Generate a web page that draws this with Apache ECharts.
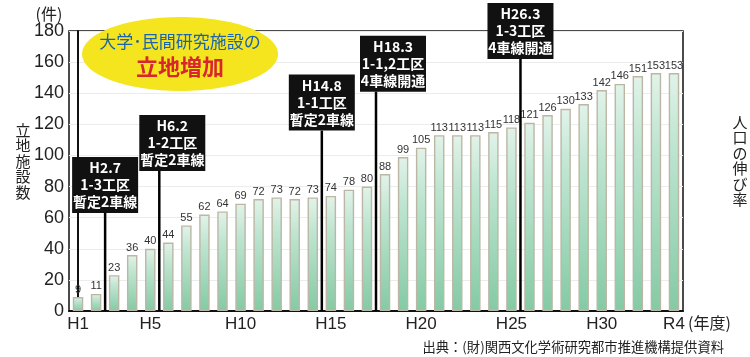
<!DOCTYPE html>
<html>
<head>
<meta charset="utf-8">
<script src="https://cdn.jsdelivr.net/npm/echarts@6/dist/echarts.min.js"></script>
<style>
html,body{margin:0;padding:0;background:#fff;}
#chart{width:750px;height:357px;}
</style>
</head>
<body>
<div id="chart"></div>
<script>
// ---- data ----
const categories = ['H1','H2','H3','H4','H5','H6','H7','H8','H9','H10',
  'H11','H12','H13','H14','H15','H16','H17','H18','H19','H20',
  'H21','H22','H23','H24','H25','H26','H27','H28','H29','H30',
  'R1','R2','R3','R4'];
const facilityCounts = [9,11,23,36,40,44,55,62,64,69,
  72,73,72,73,74,78,80,88,99,105,
  113,113,113,115,118,121,126,130,133,142,
  146,151,153,153];
const shownTickLabels = ['H1','H5','H10','H15','H20','H25','H30','R4'];
const yTicks = {min:0, max:180, interval:20};
// events: position on category scale (between two years), height of label box top (in 件 units)
const eventPositions = [1.5, 4.5, 13.5, 16.5, 24.5];
const eventBoxTops = [99, 126, 152, 177, 198];
const eventLabels = [
  ['H2.7','1-3工区','暫定2車線'],
  ['H6.2','1-2工区','暫定2車線'],
  ['H14.8','1-1工区','暫定2車線'],
  ['H18.3','1-1,2工区','4車線開通'],
  ['H26.3','1-3工区','4車線開通']
];

// ---- style / layout (not data) ----
const boxShift = [0, 13, 0, 17, 0];
const boxW = 66, boxH = 56;
const JP = '"Noto Sans CJK JP", "Noto Sans", sans-serif';
const NUM = '"Liberation Sans", "DejaVu Sans", sans-serif';

const chart = echarts.init(document.getElementById('chart'), null, {renderer:'canvas'});

const eventData = eventPositions.map((p, i) => [p, eventBoxTops[i], i]);

const option = {
  animation: false,
  backgroundColor: '#fff',
  grid: {left: 69, right: 67, top: 31, bottom: 46, show: true, borderColor: '#111', borderWidth: 1.5, containLabel: false},
  xAxis: [{
    type: 'category',
    data: categories,
    boundaryGap: true,
    axisLine: {show: true, lineStyle: {color: '#111', width: 2}},
    axisTick: {show: false},
    axisLabel: {
      interval: (idx, val) => shownTickLabels.includes(val),
      color: '#222', fontSize: 17, fontFamily: NUM, margin: 5
    },
    splitLine: {show: false}
  }, {
    type: 'value', min: -0.5, max: 33.5, show: false, gridIndex: 0
  }],
  yAxis: {
    type: 'value', min: yTicks.min, max: yTicks.max, interval: yTicks.interval,
    axisLine: {show: true, lineStyle: {color: '#111', width: 2}},
    axisTick: {show: false},
    axisLabel: {color: '#222', fontSize: 18, fontFamily: NUM, margin: 5},
    splitLine: {show: true, lineStyle: {color: '#ececec', width: 1}}
  },
  series: [{
    type: 'bar',
    data: facilityCounts,
    barWidth: '58%',
    z: 3,
    itemStyle: {
      color: new echarts.graphic.LinearGradient(0, 0, 0, 1, [
        {offset: 0, color: '#e2f3ea'},
        {offset: 0.3, color: '#bfe5d1'},
        {offset: 1, color: '#84caa5'}
      ]),
      borderColor: '#bcb7a5', borderWidth: 1.4
    },
    label: {
      show: true, position: 'top', distance: 2,
      color: '#333', fontSize: 11,
      fontFamily: '"Liberation Sans Narrow", "Liberation Sans", sans-serif'
    }
  }, {
    type: 'custom',
    xAxisIndex: 1,
    yAxisIndex: 0,
    clip: false,
    z: 10,
    data: eventData,
    renderItem: function (params, api) {
      const x = api.value(0), top = api.value(1), i = api.value(2);
      const base = api.coord([x, 0]);
      const tp = api.coord([x, top]);
      const lx = base[0];
      const bx = lx + boxShift[i] - boxW / 2;
      const by = tp[1];
      const lines = eventLabels[i];
      return {
        type: 'group',
        children: [{
          type: 'line',
          shape: {x1: lx, y1: by + boxH, x2: lx, y2: base[1]},
          style: {stroke: '#000', lineWidth: 2.5}
        }, {
          type: 'rect',
          shape: {x: bx, y: by, width: boxW, height: boxH},
          style: {fill: '#111'}
        }, {
          type: 'text',
          style: {
            x: bx + boxW / 2, y: by + boxH / 2,
            text: lines.join('\n'),
            fill: '#fff', font: 'bold 14px ' + JP,
            lineHeight: 17, align: 'center', verticalAlign: 'middle'
          }
        }]
      };
    }
  }],
  graphic: [
    {type: 'ellipse', shape: {cx: 180, cy: 54, rx: 98, ry: 37}, style: {fill: '#f4e51e'}, z: 20},
    {type: 'text', x: 180, y: 42, z: 21, style: {text: '大学･民間研究施設の', fill: '#1c63ad', font: '17px ' + JP, align: 'center', verticalAlign: 'middle'}},
    {type: 'text', x: 180, y: 67, z: 21, style: {text: '立地増加', fill: '#d8262e', font: 'bold 22px ' + JP, align: 'center', verticalAlign: 'middle'}},
    {type: 'text', x: 49, y: 14, style: {text: '(件)', fill: '#222', font: '16px ' + JP, align: 'center', verticalAlign: 'middle'}},
    {type: 'text', x: 23, y: 161, style: {text: '立\n地\n施\n設\n数', fill: '#222', font: '15px ' + JP, lineHeight: 15.5, align: 'center', verticalAlign: 'middle'}},
    {type: 'text', x: 740, y: 161, style: {text: '人\n口\nの\n伸\nび\n率', fill: '#222', font: '15px ' + JP, lineHeight: 15.5, align: 'center', verticalAlign: 'middle'}},
    {type: 'text', x: 688, y: 323, style: {text: '(年度)', fill: '#222', font: '16px ' + JP, align: 'left', verticalAlign: 'middle'}},
    {type: 'text', x: 724, y: 347, style: {text: '出典：(財)関西文化学術研究都市推進機構提供資料', fill: '#222', font: '13.3px ' + JP, align: 'right', verticalAlign: 'middle'}}
  ]
};
chart.setOption(option);
</script>
</body>
</html>
